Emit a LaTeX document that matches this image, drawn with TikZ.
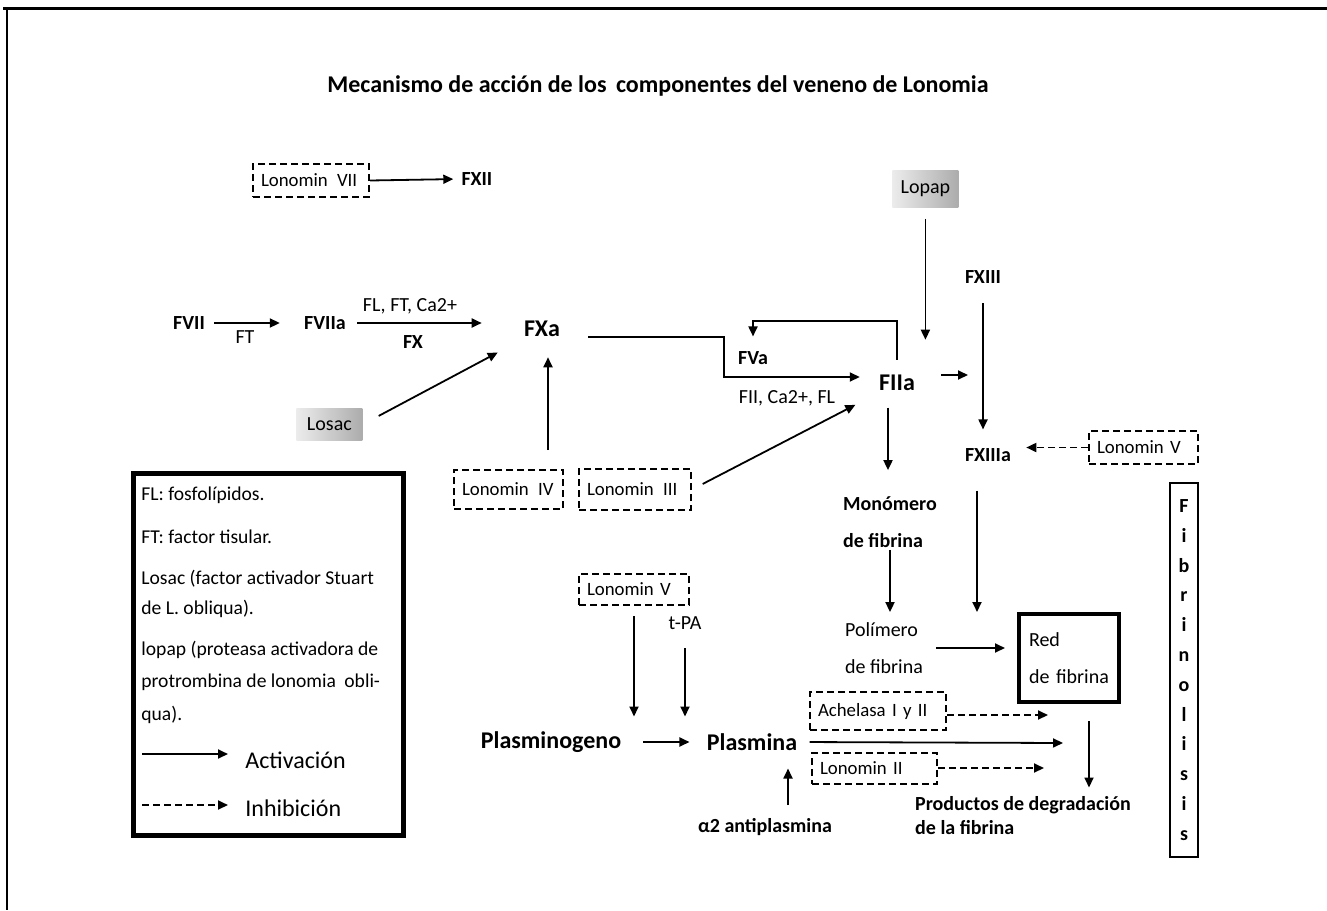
\documentclass[tikz,border=0pt]{standalone}
\usepackage{fontspec}
\setmainfont{Carlito}
\usetikzlibrary{arrows.meta,positioning,calc}

\begin{document}
\begin{tikzpicture}[x=0.5pt,y=-0.5pt,
  act/.style={-{Triangle[length=5pt,width=4.5pt]}, line width=0.9pt},
  inh/.style={act, dash pattern=on 3.5pt off 2pt},
  fac/.style={font=\bfseries\fontsize{10}{12}\selectfont, inner sep=1pt},
  big/.style={font=\bfseries\fontsize{12}{14}\selectfont, inner sep=1.5pt},
  txt/.style={font=\fontsize{10}{12}\selectfont, inner sep=1pt},
  lono/.style={draw, line width=1pt, dash pattern=on 3.5pt off 2pt, font=\fontsize{9.4}{11}\selectfont, anchor=north west, inner xsep=4pt, align=left},
  venom/.style={left color=gray!15, right color=gray!65, font=\fontsize{10}{12}\selectfont, anchor=north west, inner sep=0pt},
  legtxt/.style={font=\fontsize{9.8}{12}\selectfont, anchor=west, inner sep=0pt, align=left}
]
\useasboundingbox (0,0) rectangle (1327,910);
\draw[line width=1.5pt] (3,8) -- (1327,8);
\draw[line width=1pt] (7,8) -- (7,910);

\node[font=\bfseries\fontsize{12}{14}\selectfont] (title) at (658,86) {Mecanismo de acción de los\hspace{2pt} componentes del veneno de Lonomia};

% venom components
\node[lono, text width=50pt, minimum height=16.5pt] (lvii) at (252,163) {Lonomin\hspace{1.5pt} VII};
\node[lono, text width=46.5pt, minimum height=19.5pt] (liv) at (453,469) {Lonomin\hspace{1.5pt} IV};
\node[lono, text width=48pt, minimum height=20.5pt] (liii) at (578,468) {Lonomin\hspace{1.5pt} III};
\node[lono, text width=47pt, minimum height=15.5pt] (lvm) at (578,573) {Lonomin V};
\node[lono, text width=46.5pt, minimum height=16.5pt] (lvr) at (1088,430) {Lonomin V};
\node[lono, text width=60pt, minimum height=19pt] (ach) at (809,691) {Achelasa I y II};
\node[lono, text width=54.5pt, minimum height=15.5pt] (lii) at (811,752) {Lonomin II};
\node[venom, minimum width=33pt, minimum height=16pt] (losac) at (296,408) {Losac};
\node[venom, minimum width=33pt, minimum height=18.5pt] (lopap) at (892,170) {Lopap};

% factors
\node[fac] (fxii) at (477,179) {FXII};
\node[fac] (fvii) at (189,323) {FVII};
\node[fac] (fviia) at (325,323) {FVIIa};
\node[big] (fxa) at (542,329) {FXa};
\node[big] (fiia) at (897,383) {FIIa};
\node[fac] (fva) at (753,358) {FVa};
\node[fac] (fxiii) at (983,277) {FXIII};
\node[fac] (fxiiia) at (988,455) {FXIIIa};
\node[fac, align=left, font=\bfseries\fontsize{10}{18.5}\selectfont] (mono) at (890,522) {Monómero\\de fibrina};
\node[txt, align=left, font=\fontsize{10}{18.5}\selectfont] (poli) at (884,648) {Polímero\\de fibrina};
\node[draw, line width=2pt, anchor=north west, inner xsep=5pt, text width=40pt, minimum height=44pt, align=left, font=\fontsize{10}{18.5}\selectfont] (red) at (1017,612) {Red\\de fibrina};
\node[fac, align=left] (prod) at (1023,816) {Productos de degradación\\de la fibrina};
\node[big] (pgeno) at (551,742) {Plasminogeno};
\node[big] (pl) at (752,742) {Plasmina};
\node[fac] (anti) at (765,827) {α2 antiplasmina};
\node[txt] (tpa) at (685,623) {t-PA};
\node[draw, line width=0.9pt, minimum width=14pt, minimum height=187pt, align=center, font=\bfseries\fontsize{10}{14.9}\selectfont] (fibri) at (1184,670) {F\\i\\b\\r\\i\\n\\o\\l\\i\\s\\i\\s};

% cofactor labels
\node[txt] (ft) at (245,337) {FT};
\node[txt] (cofx) at (410,306) {FL, FT, Ca2+};
\node[fac] (fx) at (413,342) {FX};
\node[txt] (cofii) at (787,398) {FII, Ca2+, FL};

% cascade
\draw[act, shorten >=3pt] (lvii.east) -- (fxii.west);
\draw[act, shorten <=3.5pt, shorten >=11pt] (fvii.east) -- (fviia.west);
\draw[act, shorten <=4.5pt, shorten >=19.5pt] (fviia.east) -- (fviia.east -| fxa.west);
\draw[act, shorten <=9pt, shorten >=13pt] (losac.east) -- (fxa.south west);
\coordinate (fxin) at ([xshift=3pt]fxa.south);
\draw[act, shorten <=9.5pt, shorten >=8.5pt] (fxin |- liv.north) -- (fxin);
\draw[act, shorten <=6pt, shorten >=11.5pt] (liii.east) -- (fiia.south west);
\coordinate (fvbend) at (724,377);
\draw[act, shorten <=12.5pt, shorten >=8pt] ([yshift=-4pt]fxa.east) -| (fvbend) -- (fvbend -| fiia.west);
\coordinate (fbtop) at (899,321);
\draw[act, shorten <=6pt, shorten >=6.3pt] (fiia.north) -- (fiia.north |- fbtop) -| (fva.north);
\draw[act, shorten <=5.5pt, shorten >=16pt] (lopap.south) -- (lopap.south |- fiia.north);
\coordinate (fiiaout) at ([yshift=4pt]fiia.east);
\draw[act, shorten <=11.5pt, shorten >=7.5pt] (fiiaout) -- (fiiaout -| fxiii.south);
\draw[act, shorten <=8.8pt, shorten >=8.3pt] (fxiii.south) -- (fxiii.south |- fxiiia.north);
\draw[inh, shorten >=6.5pt] (lvr.west) -- (lvr.west -| fxiiia.east);

% fibrin
\coordinate (fiiadown) at ([xshift=-4.5pt]fiia.south);
\draw[act, shorten <=6.7pt, shorten >=12pt] (fiiadown) -- (fiiadown |- mono.north);
\draw[act, shorten >=4pt] (mono.south) -- (mono.south |- poli.north);
\coordinate (fxiiiadown) at ([xshift=-5.5pt]fxiiia.south);
\draw[act, shorten <=13.3pt] (fxiiiadown) -- (fxiiiadown |- red.north);
\draw[act, shorten <=5.5pt, shorten >=6pt] (poli.east) -- (poli.east -| red.west);
\coordinate (redout) at ([xshift=10pt]red.south);
\draw[act, shorten <=8.5pt, shorten >=3.5pt] (redout) -- (redout |- prod.north);

% fibrinolysis
\draw[act, shorten <=9.3pt, shorten >=7pt] (pgeno.east) -- (pl.west);
\draw[act, shorten <=5pt, shorten >=6.8pt] (lvm.south) -- (lvm.south |- pl.north);
\draw[act, shorten <=8.3pt, shorten >=6.8pt] (tpa.south) -- (tpa.south |- pl.north);
\coordinate (antiup) at ([xshift=11.5pt]anti.north);
\draw[act, shorten <=5.5pt, shorten >=7.3pt] (antiup) -- (antiup |- pl.south);
\coordinate (plend) at (1063,743);
\draw[act, shorten <=4.5pt] (pl.east) -- (plend);
\coordinate (inhach) at (1048,715);
\draw[inh] (ach.east |- inhach) -- (inhach);
\coordinate (inhlii) at (1044,768);
\draw[inh] (lii.east |- inhlii) -- (inhlii);

% legend
\node[draw, line width=2.5pt, anchor=north west, minimum width=135pt, minimum height=181pt] (legend) at (131,471) {};
\node[legtxt] (legfl) at (141,495) {FL: fosfolípidos.};
\node[legtxt] (legft) at (141,537) {FT: factor tisular.};
\node[legtxt, font=\fontsize{9.8}{15}\selectfont] (leglosac) at (141,594) {Losac (factor activador Stuart\\de L. obliqua).};
\node[legtxt, font=\fontsize{9.8}{16.25}\selectfont] (leglopap) at (141,682) {lopap (proteasa activadora de\\protrombina de lonomia\hspace{2pt} obli-\\qua).};
\coordinate (lega1) at (142,754);
\coordinate (lega2) at (228,754);
\draw[act] (lega1) -- (lega2);
\node[legtxt, font=\fontsize{12}{14}\selectfont] (legact) at (245,760) {Activación};
\coordinate (legi1) at (142,805);
\coordinate (legi2) at (228,805);
\draw[inh] (legi1) -- (legi2);
\node[legtxt, font=\fontsize{12}{14}\selectfont] (leginh) at (245,808) {Inhibición};
\end{tikzpicture}
\end{document}
